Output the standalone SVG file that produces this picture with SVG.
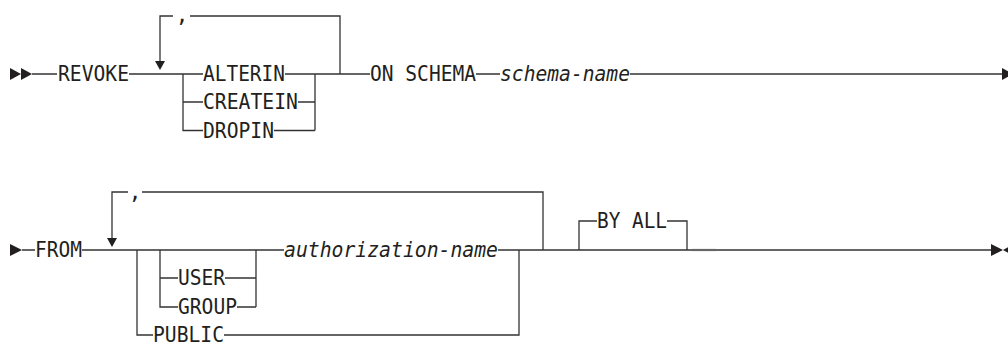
<svg xmlns="http://www.w3.org/2000/svg" width="1008" height="343" viewBox="0 0 1008 343">
<style>
.t{font-family:"DejaVu Sans Mono","Liberation Mono",monospace;font-size:21px;fill:#231f20}
.i{font-style:italic}
.l{fill:none;stroke:#333;stroke-width:1.3}
.a{fill:#231f20}
</style>
<rect width="1008" height="343" fill="#fff"/>
<g id="connectors">
<path class="l" d="M32,74 H57 M129,74 H203 M285,74 H370 M476,74 H500 M630,74 H1003"/>
<path class="l" d="M340,74 V16 H190 M173,16 H160 V62"/>
<path class="l" d="M183,74 V130.5 H203 M183,102 H203 M298,102 H315 M274,130.5 H315 M315,74 V130.5"/>
<path class="l" d="M22,250 H35 M82,250 H284 M498,250 H992"/>
<path class="l" d="M543,250 V192 H142 M128,192 H112 V238"/>
<path class="l" d="M137,250 V335 H153 M224,335 H519 V250"/>
<path class="l" d="M160,250 V307 H178 M160,278 H178 M225,278 H256 M237,307 H256 M256,250 V307"/>
<path class="l" d="M579,250 V221 H597 M667,221 H687 V250"/>
<path d="M692,250 H716" stroke="#666" stroke-width="2.2"/>
<polygon class="a" points="10,68 21,74 10,80"/>
<polygon class="a" points="21,68 32,74 21,80"/>
<polygon class="a" points="155,61 165,61 160,70"/>
<polygon class="a" points="1002,68 1013,74 1002,80"/>
<polygon class="a" points="10,244 22,250 10,256"/>
<polygon class="a" points="107,238 117,238 112,247"/>
<polygon class="a" points="991,244 1003,250 991,256"/>
<polygon class="a" points="1003,250 1014,244 1014,256"/>
</g>
<g id="revoke"><text class="t" x="58" y="81" textLength="71" lengthAdjust="spacingAndGlyphs">REVOKE</text></g>
<g id="comma1"><text class="t" x="182" y="21.5" text-anchor="middle">,</text></g>
<g id="alterin"><text class="t" x="203" y="81" textLength="82" lengthAdjust="spacingAndGlyphs">ALTERIN</text></g>
<g id="createin"><text class="t" x="203" y="109" textLength="95" lengthAdjust="spacingAndGlyphs">CREATEIN</text></g>
<g id="dropin"><text class="t" x="203" y="137.5" textLength="71" lengthAdjust="spacingAndGlyphs">DROPIN</text></g>
<g id="onschema"><text class="t" x="370" y="81" textLength="106" lengthAdjust="spacingAndGlyphs">ON SCHEMA</text></g>
<g id="schemaname"><text class="t i" x="500" y="81" textLength="130" lengthAdjust="spacingAndGlyphs">schema-name</text></g>
<g id="from"><text class="t" x="35" y="257" textLength="47" lengthAdjust="spacingAndGlyphs">FROM</text></g>
<g id="comma2"><text class="t" x="135" y="198.5" text-anchor="middle">,</text></g>
<g id="user"><text class="t" x="178" y="285" textLength="47" lengthAdjust="spacingAndGlyphs">USER</text></g>
<g id="group"><text class="t" x="178" y="314" textLength="59" lengthAdjust="spacingAndGlyphs">GROUP</text></g>
<g id="authname"><text class="t i" x="284" y="257" textLength="214" lengthAdjust="spacingAndGlyphs">authorization-name</text></g>
<g id="public"><text class="t" x="153" y="342" textLength="71" lengthAdjust="spacingAndGlyphs">PUBLIC</text></g>
<g id="byall"><text class="t" x="597" y="228" textLength="70" lengthAdjust="spacingAndGlyphs">BY ALL</text></g>
</svg>
